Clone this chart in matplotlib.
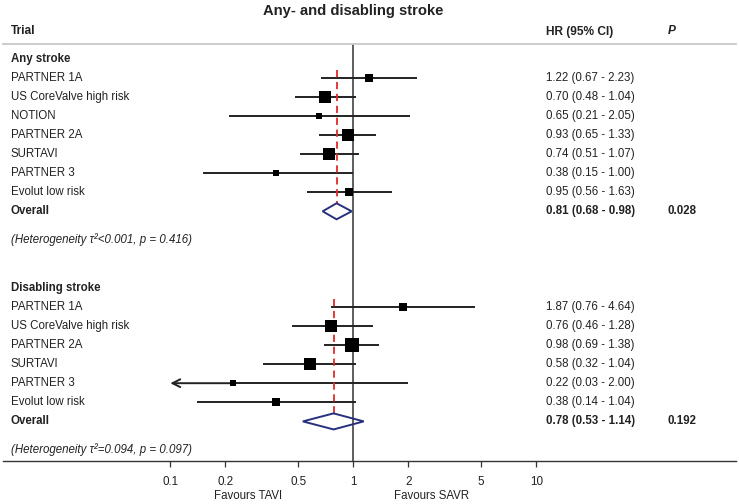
import matplotlib
matplotlib.use("Agg")
import matplotlib.pyplot as plt
import matplotlib.transforms as mtransforms
from matplotlib.patches import Polygon
from matplotlib.ticker import FixedLocator, FixedFormatter, NullLocator
import numpy as np

plt.rcParams['font.family'] = ['Liberation Sans', 'DejaVu Sans']

# ---------------- data ----------------
title = "Any- and disabling stroke"

any_label = "Any stroke"
any_trials = ["PARTNER 1A", "US CoreValve high risk", "NOTION", "PARTNER 2A",
              "SURTAVI", "PARTNER 3", "Evolut low risk"]
any_hr = [1.22, 0.70, 0.65, 0.93, 0.74, 0.38, 0.95]
any_lo = [0.67, 0.48, 0.21, 0.65, 0.51, 0.15, 0.56]
any_hi = [2.23, 1.04, 2.05, 1.33, 1.07, 1.00, 1.63]
any_weight = [11.1, 21.0, 4.3, 25.0, 21.0, 6.3, 11.1]
any_overall = [0.81, 0.68, 0.98]
any_p = "0.028"
any_tau2 = "<0.001"
any_het_p = "0.416"

dis_label = "Disabling stroke"
dis_trials = ["PARTNER 1A", "US CoreValve high risk", "PARTNER 2A",
              "SURTAVI", "PARTNER 3", "Evolut low risk"]
dis_hr = [1.87, 0.76, 0.98, 0.58, 0.22, 0.38]
dis_lo = [0.76, 0.46, 0.69, 0.32, 0.03, 0.14]
dis_hi = [4.64, 1.28, 1.38, 1.04, 2.00, 1.04]
dis_weight = [11.3, 21.5, 30.0, 21.5, 4.4, 11.3]
dis_overall = [0.78, 0.53, 1.14]
dis_p = "0.192"
dis_tau2 = "=0.094"
dis_het_p = "0.097"

x_ticks = [0.1, 0.2, 0.5, 1, 2, 5, 10]
x_tick_labels = ["0.1", "0.2", "0.5", "1", "2", "5", "10"]
favours_left = "Favours TAVI"
favours_right = "Favours SAVR"

# ---------------- layout ----------------
W, H = 739, 504
fig = plt.figure(figsize=(W / 100, H / 100), dpi=100)

ax_left, ax_right = 3, 736
ax_top, ax_bottom = 44.3, 461
ax = fig.add_axes([ax_left / W, 1 - ax_bottom / H,
                   (ax_right - ax_left) / W, (ax_bottom - ax_top) / H])
ax.set_xscale('log')
px_one, px_decade = 353.3, 183.0
ax.set_xlim(10 ** ((ax_left - px_one) / px_decade), 10 ** ((ax_right - px_one) / px_decade))
row0_px, row_px = 58.5, 19.1
ax.set_ylim((ax_bottom - row0_px) / row_px, (ax_top - row0_px) / row_px)

for s in ['left', 'right']:
    ax.spines[s].set_visible(False)
ax.spines['top'].set_color('#c8c8c8')
ax.spines['top'].set_linewidth(1.3)
ax.spines['bottom'].set_color('#333333')
ax.spines['bottom'].set_linewidth(1.0)
ax.yaxis.set_major_locator(NullLocator())
ax.xaxis.set_major_locator(FixedLocator(x_ticks))
ax.xaxis.set_major_formatter(FixedFormatter(x_tick_labels))
ax.xaxis.set_minor_locator(NullLocator())
ax.tick_params(axis='x', direction='out', length=4, width=0.9, color='#333333',
               labelsize=8.4, labelcolor='#222222', pad=6.5)

TXT = '#222222'
FS = 8.3
tr_text = mtransforms.blended_transform_factory(fig.transFigure, ax.transData)
x_trial = 10.7 / W
x_hr = 546 / W
x_p = 668 / W

ax.axvline(1, color='#333333', lw=1.1, zorder=2)

fig.text(353 / W, 1 - 11 / H, title, ha='center', va='center', fontsize=10.6,
         fontweight='bold', color=TXT)
hdr_y = 1 - 31.5 / H
fig.text(x_trial, hdr_y, "Trial", ha='left', va='center', fontsize=8.6, fontweight='bold', color=TXT)
fig.text(x_hr, hdr_y, "HR (95% CI)", ha='left', va='center', fontsize=8.6, fontweight='bold', color=TXT)
fig.text(x_p, hdr_y, "P", ha='left', va='center', fontsize=8.6, fontweight='bold',
         style='italic', color=TXT)

XMIN_CLIP = 0.1
DIAMOND_H = 0.42
NAVY = '#27307e'
RED = '#e02a2a'


def draw_group(start, label, trials, hr, lo, hi, weight, overall, pval, tau2, hetp):
    ax.text(x_trial, start, label, transform=tr_text, ha='left', va='center',
            fontsize=FS, fontweight='bold', color=TXT)
    rows = [start + 1 + i for i in range(len(trials))]
    for r, name, h, l, u, w in zip(rows, trials, hr, lo, hi, weight):
        ax.text(x_trial, r, name, transform=tr_text, ha='left', va='center', fontsize=FS, color=TXT)
        ax.text(x_hr, r, f"{h:.2f} ({l:.2f} - {u:.2f})", transform=tr_text, ha='left',
                va='center', fontsize=FS, color=TXT)
        if l < XMIN_CLIP:
            ax.plot([h, u], [r, r], color='#222222', lw=1.4, zorder=3, solid_capstyle='butt')
            ax.annotate('', xy=(XMIN_CLIP, r), xytext=(h, r),
                        arrowprops=dict(arrowstyle='->,head_length=0.4,head_width=0.2',
                                        mutation_scale=14, lw=1.4, color='#222222',
                                        shrinkA=0, shrinkB=0), zorder=3)
        else:
            ax.plot([l, u], [r, r], color='#222222', lw=1.4, zorder=3, solid_capstyle='butt')
        size_px = 2.55 * np.sqrt(w)
        ax.plot([h], [r], marker='s', color='black', markersize=size_px * 72 / 100,
                markeredgewidth=0, linestyle='none', zorder=4)
    ro = rows[-1] + 1
    oh, ol, ou = overall
    ax.text(x_trial, ro, "Overall", transform=tr_text, ha='left', va='center',
            fontsize=FS, fontweight='bold', color=TXT)
    ax.text(x_hr, ro, f"{oh:.2f} ({ol:.2f} - {ou:.2f})", transform=tr_text, ha='left',
            va='center', fontsize=FS, fontweight='bold', color=TXT)
    ax.text(x_p, ro, pval, transform=tr_text, ha='left', va='center',
            fontsize=FS, fontweight='bold', color=TXT)
    ax.plot([oh, oh], [rows[0] - 0.42, ro - DIAMOND_H], color=RED, lw=1.3,
            linestyle=(0, (4, 2.6)), zorder=3)
    dia = Polygon([[ol, ro], [oh, ro - DIAMOND_H], [ou, ro], [oh, ro + DIAMOND_H]],
                  closed=True, facecolor='none', edgecolor=NAVY, lw=1.4, zorder=5)
    ax.add_patch(dia)
    ax.text(x_trial, ro + 1.47, f"(Heterogeneity τ²{tau2}, p = {hetp})", transform=tr_text,
            ha='left', va='center', fontsize=FS, style='italic', color=TXT)


draw_group(0, any_label, any_trials, any_hr, any_lo, any_hi, any_weight, any_overall,
           any_p, any_tau2, any_het_p)
draw_group(12, dis_label, dis_trials, dis_hr, dis_lo, dis_hi, dis_weight, dis_overall,
           dis_p, dis_tau2, dis_het_p)

fav_y = 1 - 496 / H
fig.text(248 / W, fav_y, favours_left, ha='center', va='center', fontsize=FS, color=TXT)
fig.text(431.7 / W, fav_y, favours_right, ha='center', va='center', fontsize=FS, color=TXT)

fig.savefig("out.png", dpi=100)
